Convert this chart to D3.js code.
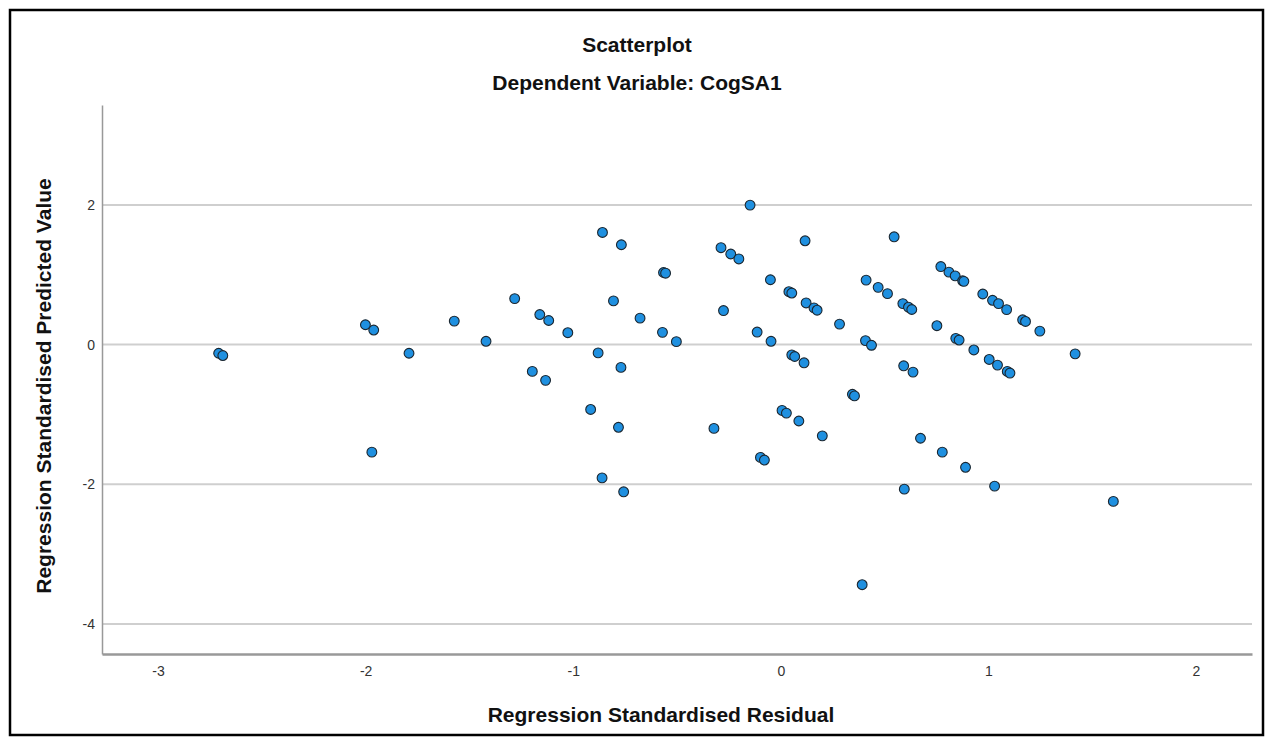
<!DOCTYPE html>
<html>
<head>
<meta charset="utf-8">
<script src="https://cdn.jsdelivr.net/npm/d3@7"></script>
<style>
  html, body { margin: 0; padding: 0; background: #fff; }
  svg { display: block; }
  text { font-family: "Liberation Sans", Arial, sans-serif; }
</style>
</head>
<body>
<svg id="chart" width="1271" height="743"></svg>
<script>
// ---- data ----
const chartTitle = "Scatterplot";
const chartSubtitle = "Dependent Variable: CogSA1";
const xAxisTitle = "Regression Standardised Residual";
const yAxisTitle = "Regression Standardised Predicted Value";
const xTicks = [-3, -2, -1, 0, 1, 2];
const yTicks = [-4, -2, 0, 2];
const xDomain = [-3.27, 2.27];
const yDomain = [-4.43, 3.43];

const residuals = [
  -2.708, -2.688, -2.001, -1.961, -1.791, -1.573, -1.420, -1.282, -1.161, -1.118,
  -1.026, -0.859, -0.768, -0.565, -0.555, -0.806, -0.678, -0.570, -0.503, -0.880,
  -0.770, -1.197, -1.133, -0.916, -0.782, -0.322, -1.970, -0.861, -0.757,
  -0.148, -0.288, -0.241, -0.202, 0.117, 0.546, -0.276, -0.050, 0.039, 0.053,
  0.122, 0.160, 0.175, 0.283, -0.114, -0.047, 0.053, 0.067, 0.112, 0.411,
  0.469, 0.514, 0.588, 0.615, 0.631, 0.408, 0.437, 0.592, 0.637, 0.345,
  0.355, 0.006, 0.027, 0.087, 0.200, -0.098, -0.079, 0.392, 0.771, 0.810,
  0.840, 0.876, 0.882, 0.973, 1.020, 1.049, 1.088, 1.165, 1.179, 1.248,
  0.752, 0.843, 0.859, 0.930, 1.004, 1.044, 1.091, 1.104, 1.418, 0.673,
  0.778, 0.890, 0.595, 1.030, 1.602
];
const predicted = [
  -0.124, -0.157, 0.284, 0.208, -0.124, 0.336, 0.047, 0.658, 0.430, 0.345,
  0.170, 1.605, 1.429, 1.032, 1.022, 0.625, 0.378, 0.175, 0.042, -0.119,
  -0.327, -0.384, -0.512, -0.929, -1.184, -1.200, -1.540, -1.909, -2.108,
  1.997, 1.387, 1.297, 1.226, 1.486, 1.543, 0.487, 0.928, 0.757, 0.738,
  0.596, 0.525, 0.492, 0.293, 0.179, 0.047, -0.147, -0.171, -0.261, 0.923,
  0.819, 0.729, 0.587, 0.535, 0.502, 0.057, -0.010, -0.304, -0.394, -0.712,
  -0.735, -0.943, -0.981, -1.094, -1.307, -1.615, -1.653, -3.438, 1.117, 1.037,
  0.984, 0.913, 0.905, 0.724, 0.634, 0.587, 0.501, 0.355, 0.331, 0.193,
  0.270, 0.089, 0.065, -0.077, -0.213, -0.294, -0.384, -0.408, -0.133, -1.341,
  -1.540, -1.757, -2.070, -2.027, -2.245
];

// ---- layout ----
const svg = d3.select("#chart");
const plot = { left: 102, right: 1252, top: 105, bottom: 654 };

const x = d3.scaleLinear().domain(xDomain).range([plot.left, plot.right]);
const y = d3.scaleLinear().domain(yDomain).range([plot.bottom, plot.top]);
const fmt = d => String(d); // plain hyphen-minus like the reference

// outer frame
svg.append("rect")
  .attr("x", 10).attr("y", 10)
  .attr("width", 1253).attr("height", 725)
  .attr("fill", "#fff")
  .attr("stroke", "#000").attr("stroke-width", 2.5);

// titles
svg.append("text")
  .attr("x", 637).attr("y", 52)
  .attr("text-anchor", "middle")
  .attr("font-size", 21).attr("font-weight", "bold").attr("fill", "#111")
  .text(chartTitle);
svg.append("text")
  .attr("x", 637).attr("y", 90)
  .attr("text-anchor", "middle")
  .attr("font-size", 21).attr("font-weight", "bold").attr("fill", "#111")
  .text(chartSubtitle);

// horizontal gridlines
svg.append("g").selectAll("line")
  .data(yTicks)
  .join("line")
  .attr("x1", plot.left).attr("x2", plot.right)
  .attr("y1", d => y(d)).attr("y2", d => y(d))
  .attr("stroke", "#cfcfcf").attr("stroke-width", 2);

// x axis
const xAxis = svg.append("g")
  .attr("transform", `translate(0,${plot.bottom})`)
  .call(d3.axisBottom(x).tickValues(xTicks).tickSize(0).tickPadding(12).tickFormat(fmt));
xAxis.select(".domain").attr("stroke", "#999").attr("stroke-width", 2.5);
xAxis.selectAll("text")
  .attr("font-size", 14).attr("fill", "#333")
  .attr("font-family", "'Liberation Sans', Arial, sans-serif");

// y axis
const yAxis = svg.append("g")
  .attr("transform", `translate(${plot.left},0)`)
  .call(d3.axisLeft(y).tickValues(yTicks).tickSize(0).tickPadding(7).tickFormat(fmt));
yAxis.select(".domain").attr("stroke", "#999").attr("stroke-width", 1.5);
yAxis.selectAll("text")
  .attr("font-size", 14).attr("fill", "#333")
  .attr("font-family", "'Liberation Sans', Arial, sans-serif");

// axis titles
svg.append("text")
  .attr("x", 661).attr("y", 722)
  .attr("text-anchor", "middle")
  .attr("font-size", 21).attr("font-weight", "bold").attr("fill", "#111")
  .text(xAxisTitle);
svg.append("text")
  .attr("transform", `translate(51,386) rotate(-90)`)
  .attr("text-anchor", "middle")
  .attr("font-size", 21).attr("font-weight", "bold").attr("fill", "#111")
  .text(yAxisTitle);

// points
const pts = residuals.map((r, i) => ({ r, p: predicted[i] }));
svg.append("g").selectAll("circle")
  .data(pts)
  .join("circle")
  .attr("cx", d => x(d.r))
  .attr("cy", d => y(d.p))
  .attr("r", 4.9)
  .attr("fill", "#1f90e0")
  .attr("stroke", "#1a2630")
  .attr("stroke-width", 1.1);
</script>
</body>
</html>
